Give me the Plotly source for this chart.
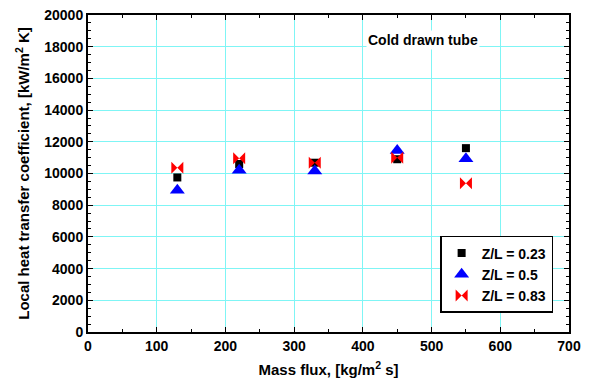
import plotly.graph_objects as go

mass_flux = [130, 220, 330, 450, 550]
h_023 = [9750, 10600, 10680, 10900, 11600]
h_05 = [8950, 10200, 10150, 11450, 10930]
h_083 = [10370, 10960, 10680, 11000, 9380]

FAM = "Liberation Sans, Arial"
font = dict(family=FAM, size=15, color="black")

fig = go.Figure()
fig.add_trace(go.Scatter(x=mass_flux, y=h_023, mode="markers", name="<b>Z/L = 0.23</b>",
                         marker=dict(symbol="square", size=8, color="black")))
fig.add_trace(go.Scatter(x=mass_flux, y=h_05, mode="markers", name="<b>Z/L = 0.5</b>",
                         marker=dict(symbol="triangle-up", size=13, color="blue")))
fig.add_trace(go.Scatter(x=mass_flux, y=h_083, mode="markers", name="<b>Z/L = 0.83</b>",
                         marker=dict(symbol="bowtie", size=12, color="red")))

axis_common = dict(showline=True, linecolor="black", linewidth=2, mirror="ticks",
                   ticks="inside", ticklen=5, tickcolor="black", automargin=False,
                   showgrid=True, gridcolor="#7FF5F5", gridwidth=1, zeroline=False,
                   tickfont=dict(family=FAM, size=14, color="black"))

fig.update_xaxes(range=[0, 700], tickvals=list(range(0, 701, 100)),
                 ticktext=[f"<b>{v}</b>" for v in range(0, 701, 100)],
                 minor=dict(dtick=50, ticks="inside", ticklen=3, tickcolor="black", showgrid=False),
                 title=dict(text="<b>Mass flux, [kg/m<sup>2</sup> s]</b>", font=font, standoff=12),
                 **axis_common)
fig.update_yaxes(range=[0, 20000], tickvals=list(range(0, 20001, 2000)),
                 ticktext=[f"<b>{v}</b>" for v in range(0, 20001, 2000)],
                 minor=dict(dtick=500, ticks="inside", ticklen=3, tickcolor="black", showgrid=False),
                 title=dict(text="<b>Local heat transfer coefficient, [kW/m<sup>2</sup> K]</b>", font=font, standoff=11),
                 **axis_common)

fig.add_annotation(x=488, y=18400, xref="x", yref="y", text="<b>Cold drawn tube</b>",
                   showarrow=False, bgcolor="white",
                   font=dict(family=FAM, size=14, color="black"))

fig.update_layout(
    width=591, height=390,
    margin=dict(l=88, r=22, t=15, b=58, autoexpand=False),
    plot_bgcolor="white", paper_bgcolor="white",
    font=font,
    showlegend=True,
    legend=dict(x=0.967, y=0.06, xanchor="right", yanchor="bottom",
                bordercolor="black", borderwidth=1.5, bgcolor="white",
                font=dict(family=FAM, size=14, color="black"),
                itemwidth=30, tracegroupgap=0),
)

fig.write_html("out.html")
